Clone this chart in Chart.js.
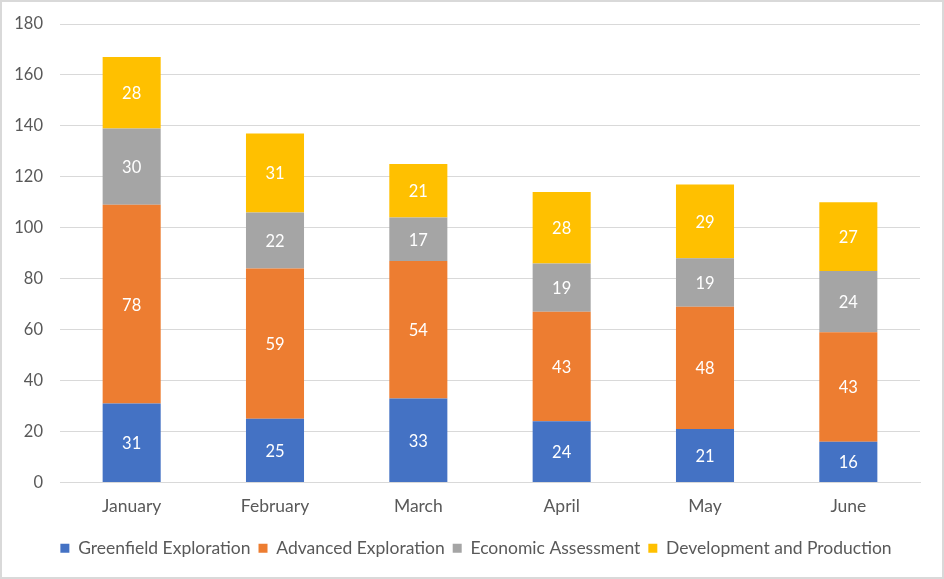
<!DOCTYPE html>
<html>
<head>
<meta charset="utf-8">
<script src="https://cdn.jsdelivr.net/npm/chart.js@4.4.0/dist/chart.umd.min.js"></script>
<style>
  html, body { margin: 0; padding: 0; background: #fff; }
  #wrap { position: relative; width: 940px; height: 575px; border: 2px solid #d9d9d9; }
</style>
</head>
<body>
<div id="wrap"><canvas id="chart" width="940" height="575"></canvas></div>
<script>
// Chart data
const months = ["January", "February", "March", "April", "May", "June"];
const greenfield = [31, 25, 33, 24, 21, 16];
const advanced = [78, 59, 54, 43, 48, 43];
const economic = [30, 22, 17, 19, 19, 24];
const development = [28, 31, 21, 28, 29, 27];

const fontFamily = "Lato, 'Open Sans', sans-serif";

// Draw the value labels in the middle of each segment
const barLabels = {
    id: "barLabels",
    afterDatasetsDraw(chart) {
        const ctx = chart.ctx;
        ctx.save();
        ctx.fillStyle = "#ffffff";
        ctx.font = "16.5px " + fontFamily;
        ctx.textAlign = "center";
        ctx.textBaseline = "middle";
        chart.data.datasets.forEach((ds, i) => {
            const meta = chart.getDatasetMeta(i);
            meta.data.forEach((bar, j) => {
                const y = (bar.y + bar.base) / 2;
                ctx.fillText(ds.data[j], bar.x, y + 1);
            });
        });
        ctx.restore();
    }
};

// Nudge the legend to the right so it sits like the original
const legendShift = {
    id: "legendShift",
    afterLayout(chart) {
        if (chart.legend) {
            chart.legend.left += 15;
            chart.legend.right += 15;
        }
    }
};

new Chart(document.getElementById("chart"), {
    type: "bar",
    data: {
        labels: months,
        datasets: [
            { label: "Greenfield Exploration", data: greenfield, backgroundColor: "#4472C4" },
            { label: "Advanced Exploration", data: advanced, backgroundColor: "#ED7D31" },
            { label: "Economic Assessment", data: economic, backgroundColor: "#A5A5A5" },
            { label: "Development and Production", data: development, backgroundColor: "#FFC000" }
        ]
    },
    options: {
        responsive: false,
        animation: false,
        datasets: {
            bar: { categoryPercentage: 1.0, barPercentage: 0.405 }
        },
        layout: { padding: { top: 22, right: 22, left: 0, bottom: 10 } },
        plugins: {
            tooltip: { enabled: false },
            legend: {
                position: "bottom",
                labels: {
                    boxWidth: 9,
                    boxHeight: 9,
                    padding: 8,
                    color: "#595959",
                    font: { family: fontFamily, size: 17.5 }
                }
            }
        },
        scales: {
            x: {
                stacked: true,
                grid: { display: false },
                border: { color: "#d9d9d9" },
                ticks: { color: "#595959", padding: 5, font: { family: fontFamily, size: 17.5 } },
                afterFit(scale) { scale.height = 49; }
            },
            y: {
                stacked: true,
                min: 0,
                max: 180,
                ticks: { stepSize: 20, color: "#595959", padding: 0, font: { family: fontFamily, size: 16.5 } },
                grid: { color: "#d9d9d9", drawTicks: true, tickLength: 17, tickColor: "rgba(0,0,0,0)" },
                border: { display: false },
                afterFit(scale) { scale.width = 58; }
            }
        }
    },
    plugins: [barLabels, legendShift]
});
</script>
</body>
</html>
